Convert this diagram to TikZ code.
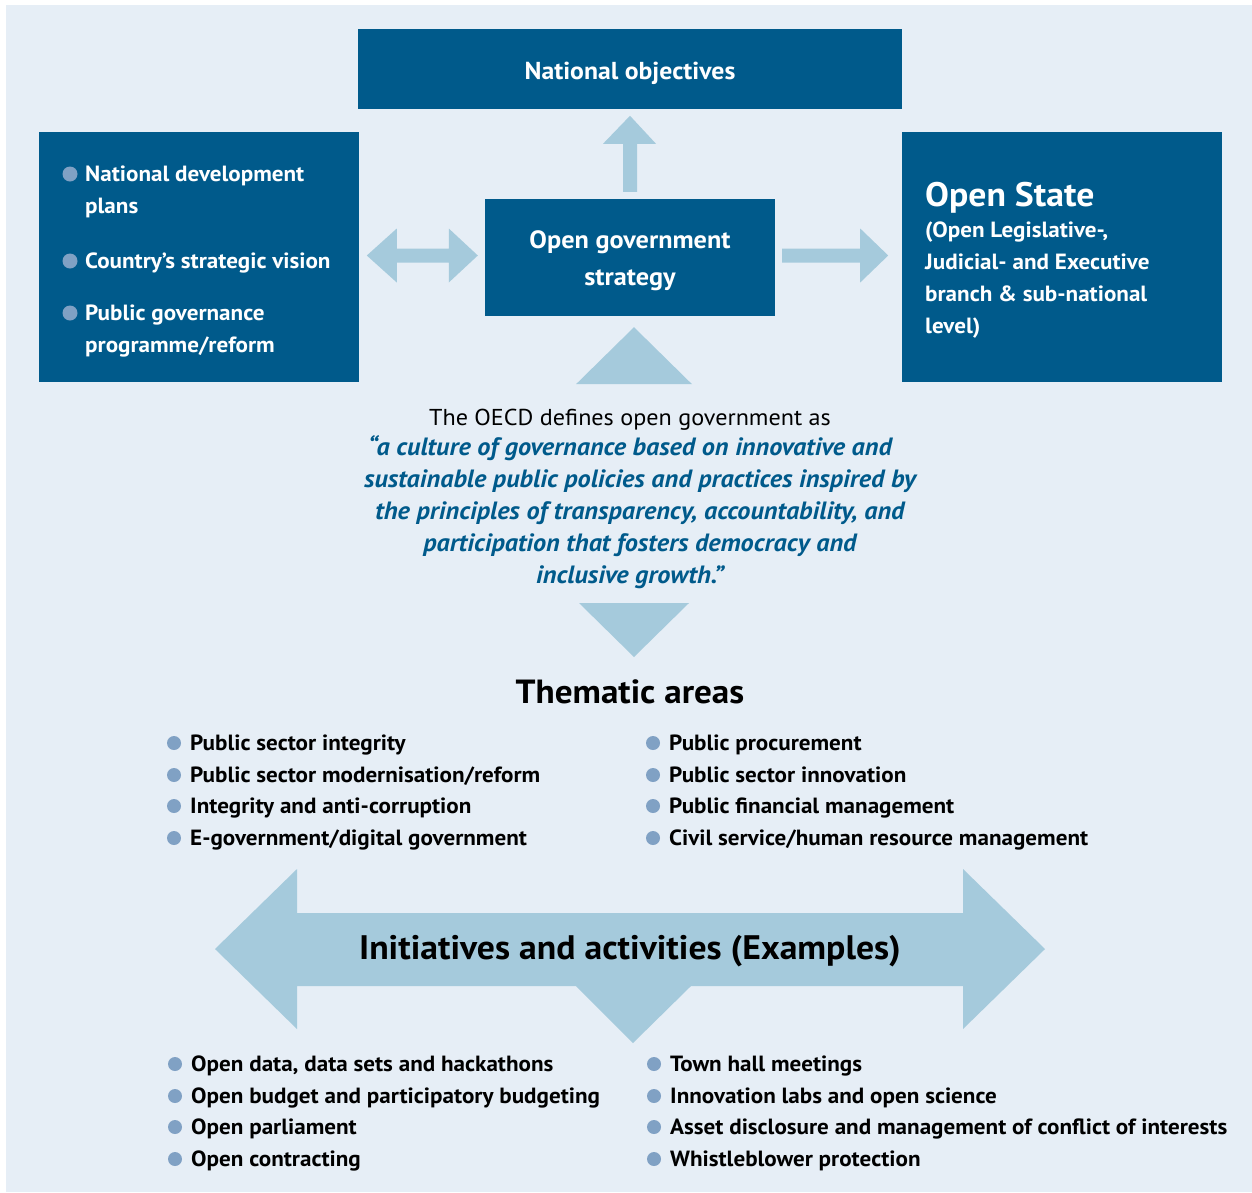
\documentclass[tikz,border=0pt]{standalone}
\usepackage{fontspec}
\setmainfont{PT Sans}
\newfontfamily\hep[FakeStretch=1.05]{PT Sans}
\usetikzlibrary{calc}
\begin{document}
\begin{tikzpicture}[x=1pt,y=-1pt,
	hop/.style={fill=xanhdam,inner sep=0pt},
	chutrang/.style={text=white,anchor=base west,align=left,inner sep=0pt,font=\hep\bfseries\fontsize{22}{32}\selectfont},
	muc/.style={anchor=base west,inner sep=0pt,font=\hep\bfseries\fontsize{22}{32}\selectfont}]
	\definecolor{nen}{RGB}{230,238,246}
	\definecolor{xanhdam}{RGB}{0,90,139}
	\definecolor{xanhnhat}{RGB}{165,202,220}
	\definecolor{xamxanh}{RGB}{128,161,196}
	
	\useasboundingbox (0,0) rectangle (1252,1192);
	\fill[nen] (6,5) rectangle (1252,1192);
	
	%Hộp
	\node[hop,minimum width=544pt,minimum height=80pt] (objectives) at (630,69) {};
	\node[hop,minimum width=320pt,minimum height=250pt] (plans) at (199,256.5) {};
	\node[hop,minimum width=290pt,minimum height=117pt] (strategy) at (630,257.5) {};
	\node[hop,minimum width=320pt,minimum height=250pt] (state) at (1062,256.5) {};
	
	\node[chutrang,anchor=base,font=\hep\bfseries\fontsize{24.5}{32}\selectfont] (o1) at (630,79) {National objectives};
	\node[chutrang,anchor=base,align=center,font=\hep\bfseries\fontsize{25}{37}\selectfont] (s1) at (630,285) {Open government\\strategy};
	\node[chutrang] (p1) at (85,213) {National development\\plans};
	\node[chutrang] (p2) at (85,268) {Country’s strategic vision};
	\node[chutrang] (p3) at (85,352) {Public governance\\programme/reform};
	\node[chutrang,font=\hep\bfseries\fontsize{34}{40}\selectfont] (st1) at (925,206) {Open State};
	\node[chutrang] (st2) at (925,333) {(Open Legislative-,\\Judicial- and Executive\\branch \& sub-national\\level)};
	
	%Mũi tên
	\begin{scope}[shift={(strategy.north)}]
		\fill[xanhnhat] (-7,-7) -- (-7,-55) -- (-27,-55) -- (0,-83) -- (26,-55) -- (7,-55) -- (7,-7) -- cycle;
	\end{scope}
	\begin{scope}[shift={(strategy.west)}]
		\fill[xanhnhat] (-7,-2) -- (-36,-29) -- (-36,-9) -- (-88,-9) -- (-88,-29) -- (-118,-2) -- (-88,25) -- (-88,5) -- (-36,5) -- (-36,25) -- cycle;
	\end{scope}
	\begin{scope}[shift={(strategy.east)}]
		\fill[xanhnhat] (7,-9) -- (85,-9) -- (85,-29) -- (113,-2) -- (85,25) -- (85,5) -- (7,5) -- cycle;
	\end{scope}
	\begin{scope}[shift={(strategy.south)}]
		\fill[xanhnhat] (-54,68) -- (4,11) -- (62,68) -- cycle;
	\end{scope}
	
	%Định nghĩa
	\node[anchor=base,inner sep=0pt,font=\hep\fontsize{23}{32}\selectfont] (oecd) at (630,425) {The OECD defines open government as};
	\node[anchor=base,inner sep=0pt,align=center,text=xanhdam,font=\hep\bfseries\itshape\fontsize{25}{32}\selectfont] (quote) at (640,583) {“a culture of governance based on innovative and\hspace*{20pt}\\sustainable public policies and practices inspired by\\the principles of transparency, accountability, and\\participation that fosters democracy and\\inclusive growth.”\hspace*{20pt}};
	\fill[xanhnhat] (579,603) -- (689,603) -- (634,657) -- cycle;
	
	%Lĩnh vực
	\node[anchor=base,inner sep=0pt,font=\hep\bfseries\fontsize{33.5}{40}\selectfont] (thematic) at (630,703) {Thematic areas};
	\node[muc] (a1) at (190,750) {Public sector integrity};
	\node[muc] (a2) at (190,782) {Public sector modernisation/reform};
	\node[muc] (a3) at (190,813) {Integrity and anti-corruption};
	\node[muc] (a4) at (190,845) {E-government/digital government};
	\node[muc] (a5) at (669,750) {Public procurement};
	\node[muc] (a6) at (669,782) {Public sector innovation};
	\node[muc] (a7) at (669,813) {Public financial management};
	\node[muc] (a8) at (669,845) {Civil service/human resource management};
	
	%Sáng kiến
	\fill[xanhnhat] (215,949) -- (297,869) -- (297,913) -- (963,913) -- (963,869) -- (1045,949) -- (963,1029) -- (963,986) -- (691,986) -- (633,1043) -- (576,986) -- (297,986) -- (297,1029) -- cycle;
	\node[anchor=base,inner sep=0pt,font=\hep\bfseries\fontsize{34}{40}\selectfont] (init) at (630,959) {Initiatives and activities (Examples)};
	\node[muc] (b1) at (191,1071) {Open data, data sets and hackathons};
	\node[muc] (b2) at (191,1103) {Open budget and participatory budgeting};
	\node[muc] (b3) at (191,1134) {Open parliament};
	\node[muc] (b4) at (191,1166) {Open contracting};
	\node[muc] (b5) at (670,1071) {Town hall meetings};
	\node[muc] (b6) at (670,1103) {Innovation labs and open science};
	\node[muc] (b7) at (670,1134) {Asset disclosure and management of conflict of interests};
	\node[muc] (b8) at (670,1166) {Whistleblower protection};
	
	\fill[xamxanh] ($(p1.base west)+(-15,-39)$) circle (7.5pt);
	\fill[xamxanh] ($(p2.base west)+(-15,-7)$) circle (7.5pt);
	\fill[xamxanh] ($(p3.base west)+(-15,-39)$) circle (7.5pt);
	\foreach \n in {a1,a2,a3,a4,a5,a6,a7,a8,b1,b2,b3,b4,b5,b6,b7,b8}
	\fill[xamxanh] ($(\n.base west)+(-16,-7)$) circle (7pt);
\end{tikzpicture}
\end{document}
